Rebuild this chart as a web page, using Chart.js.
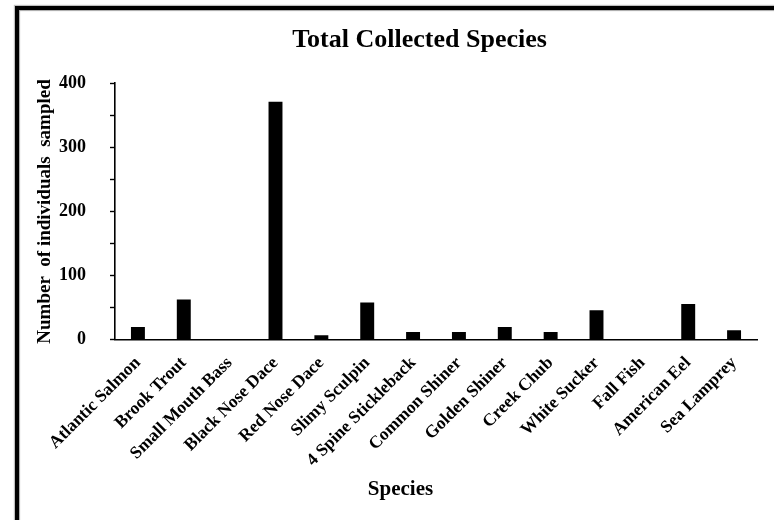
<!DOCTYPE html>
<html>
<head>
<meta charset="utf-8">
<title>Total Collected Species</title>
<script src="https://cdn.jsdelivr.net/npm/chart.js@4/dist/chart.umd.min.js"></script>
<style>
  html, body { margin: 0; padding: 0; background: #fff; overflow: hidden; }
  #wrap { position: relative; width: 774px; height: 520px; }
  #chart { position: absolute; left: 0; top: 0; }
  #frame {
    position: absolute; left: 15px; top: 6px; width: 820px; height: 600px;
    border-left: 4px solid #000; border-top: 4px solid #000;
    box-shadow: -1px -1px 1px rgba(0,0,0,0.25), inset 1px 1px 1px rgba(0,0,0,0.35);
    pointer-events: none;
  }
</style>
</head>
<body>
<div id="wrap">
  <canvas id="chart" width="774" height="520"></canvas>
  <div id="frame"></div>
</div>
<script>
// Fish counts per species, summed over all sampling sites
const species = [
  'Atlantic Salmon', 'Brook Trout', 'Small Mouth Bass', 'Black Nose Dace',
  'Red Nose Dace', 'Slimy Sculpin', '4 Spine Stickleback', 'Common Shiner',
  'Golden Shiner', 'Creek Chub', 'White Sucker', 'Fall Fish',
  'American Eel', 'Sea Lamprey'
];
const individuals = [20, 63, 0, 371, 7, 58, 12, 12, 20, 12, 46, 0, 56, 15];

// Value axis: minor marks every 50, labels every 100
const yMin = 0;
const yMax = 400;
const yMinorStep = 50;
const yLabelStep = 100;

const chartTitle = 'Total Collected Species';
const xTitle = 'Species';
const yTitle = 'Number  of individuals  sampled';

const serif = "'Liberation Serif', 'Times New Roman', serif";

// Nudges the top title and the bottom caption sideways after layout
const titleOffset = {
  id: 'titleOffset',
  afterLayout(chart, args, opts) {
    for (const box of chart.boxes) {
      if (!chart.titleBlock || box.constructor !== chart.titleBlock.constructor) continue;
      const dx = box.options.position === 'bottom' ? opts.bottom : opts.top;
      box.left += dx;
      box.right += dx;
    }
  }
};

new Chart(document.getElementById('chart'), {
  type: 'bar',
  data: {
    labels: species,
    datasets: [{
      data: individuals,
      backgroundColor: '#000',
      borderWidth: 0,
      barPercentage: 0.38,
      categoryPercentage: 0.8
    }]
  },
  plugins: [titleOffset],
  options: {
    responsive: false,
    animation: false,
    devicePixelRatio: 1,
    layout: { padding: { left: 30, right: 17, top: 0, bottom: 0 } },
    plugins: {
      legend: { display: false },
      tooltip: { enabled: false },
      titleOffset: { top: 26, bottom: 7 },
      title: {
        display: true,
        text: chartTitle,
        color: '#000',
        font: { family: serif, size: 26, weight: 'bold' },
        padding: { top: 25, bottom: 27 }
      },
      subtitle: {
        display: true,
        position: 'bottom',
        text: xTitle,
        color: '#000',
        font: { family: serif, size: 21, weight: 'bold' },
        padding: { top: 0, bottom: 18 }
      }
    },
    scales: {
      x: {
        afterFit(scale) { scale.height = 137; },
        grid: { display: true, drawOnChartArea: false, drawTicks: false },
        border: { display: true, color: '#000', width: 1.6 },
        ticks: {
          autoSkip: false,
          maxRotation: 45,
          minRotation: 45,
          padding: 13,
          color: '#000',
          font: { family: serif, size: 17.5, weight: 'bold' }
        }
      },
      y: {
        min: yMin,
        max: yMax,
        afterFit(scale) { scale.width = 85; },
        grid: {
          drawOnChartArea: false,
          drawTicks: true,
          tickLength: 5,
          tickColor: '#000',
          tickWidth: 1.4
        },
        border: { display: true, color: '#000', width: 1.6 },
        ticks: {
          stepSize: yMinorStep,
          padding: 24,
          color: '#000',
          font: { family: serif, size: 18, weight: 'bold' },
          callback: v => (v % yLabelStep === 0 ? String(v) : '')
        },
        title: {
          display: true,
          text: yTitle,
          color: '#000',
          font: { family: serif, size: 19, weight: 'bold' },
          padding: { top: 4, bottom: 0 }
        }
      }
    }
  }
});
</script>
</body>
</html>
